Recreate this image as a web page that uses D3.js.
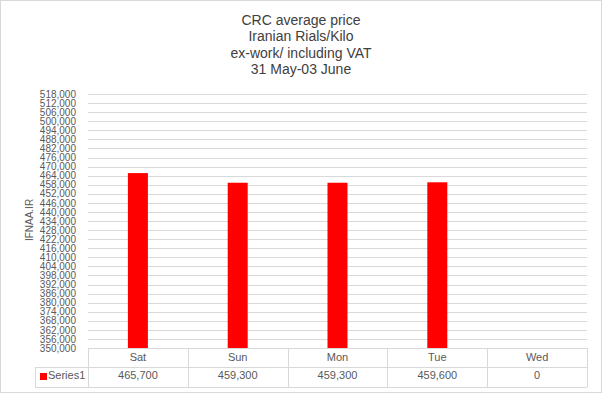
<!DOCTYPE html>
<html><head><meta charset="utf-8">
<script src="https://cdn.jsdelivr.net/npm/d3@7"></script>
<style>body{margin:0;background:#fff}svg{display:block}text{font-family:"Liberation Sans",Arial,sans-serif}</style>
</head><body><svg id="c" width="603" height="394"></svg>
<script>
const titleLines = ["CRC average price", "Iranian  Rials/Kilo", "ex-work/ including VAT", "31 May-03  June"];
const categories = ["Sat", "Sun", "Mon", "Tue", "Wed"];
const values = [465700, 459300, 459300, 459600, 0];
const seriesName = "Series1";
const yTicks = d3.range(350000, 518001, 6000);
const yTitle = "IFNAA.IR";

const svg = d3.select("#c");
const W = 603, H = 394;
const m = {left: 88, right: 587, top: 94, bottom: 348};

svg.append("rect").attr("x", 0.5).attr("y", 0.5).attr("width", W - 2).attr("height", H - 2)
  .attr("fill", "#fff").attr("stroke", "#d9d9d9");

const x = d3.scaleBand().domain(categories).range([m.left, m.right]);
const y = d3.scaleLinear().domain([350000, 518000]).range([m.bottom, m.top]);
const fmt = d3.format(",");

// title
svg.append("g").selectAll("text").data(titleLines).join("text")
  .attr("x", 301).attr("y", (d, i) => 25 + i * 16.3)
  .attr("text-anchor", "middle").attr("font-size", 14).attr("fill", "#404040").text(d => d);

// gridlines
svg.append("g").selectAll("line").data(yTicks).join("line")
  .attr("x1", m.left).attr("x2", m.right)
  .attr("y1", d => Math.round(y(d)) + 0.5).attr("y2", d => Math.round(y(d)) + 0.5)
  .attr("stroke", "#d9d9d9").attr("stroke-width", 1);

// y axis labels
const yAxis = d3.axisLeft(y).tickValues(yTicks).tickFormat(fmt).tickSize(0).tickPadding(12);
const ga = svg.append("g").attr("transform", `translate(${m.left},0)`).call(yAxis);
ga.select(".domain").remove();
ga.selectAll("text").attr("font-size", 10).attr("fill", "#595959")
  .attr("font-family", "'Liberation Sans',Arial,sans-serif");

// y title
svg.append("text").attr("transform", `translate(33,${(m.top + m.bottom) / 2 - 1}) rotate(-90)`)
  .attr("text-anchor", "middle").attr("font-size", 10).attr("fill", "#595959").text(yTitle);

// bars
const bw = 20;
svg.append("g").selectAll("rect").data(categories.map((c, i) => ({c, v: values[i]})).filter(d => d.v > 350000)).join("rect")
  .attr("x", d => x(d.c) + x.bandwidth() / 2 - bw / 2)
  .attr("width", bw)
  .attr("y", d => y(d.v))
  .attr("height", d => y(350000) - y(d.v))
  .attr("fill", "#ff0000");

// data table
const r1 = m.bottom, r2 = 367, r3 = 387, legL = 35;
const tg = svg.append("g").attr("stroke", "#d9d9d9").attr("stroke-width", 1);
tg.append("line").attr("x1", m.left).attr("x2", m.right).attr("y1", r1 + 0.5).attr("y2", r1 + 0.5);
tg.append("line").attr("x1", legL).attr("x2", m.right).attr("y1", r2 + 0.5).attr("y2", r2 + 0.5);
tg.append("line").attr("x1", legL).attr("x2", m.right).attr("y1", r3 + 0.5).attr("y2", r3 + 0.5);
tg.append("line").attr("x1", legL + 0.5).attr("x2", legL + 0.5).attr("y1", r2).attr("y2", r3);
const bounds = categories.map(c => x(c)).concat([m.right]);
tg.selectAll(".v").data(bounds).join("line").attr("class", "v")
  .attr("x1", d => Math.round(d) + 0.5).attr("x2", d => Math.round(d) + 0.5).attr("y1", r1).attr("y2", r3);

svg.append("g").selectAll("text").data(categories).join("text")
  .attr("x", d => x(d) + x.bandwidth() / 2).attr("y", r1 + 13)
  .attr("text-anchor", "middle").attr("font-size", 11).attr("fill", "#595959").text(d => d);
svg.append("g").selectAll("text").data(values).join("text")
  .attr("x", (d, i) => x(categories[i]) + x.bandwidth() / 2).attr("y", r2 + 12)
  .attr("text-anchor", "middle").attr("font-size", 11).attr("fill", "#595959").text(d => fmt(d));

svg.append("rect").attr("x", 40).attr("y", 373).attr("width", 7).attr("height", 7).attr("fill", "#ff0000");
svg.append("text").attr("x", 48).attr("y", r2 + 12).attr("font-size", 11).attr("fill", "#595959").text(seriesName);
</script></body></html>
